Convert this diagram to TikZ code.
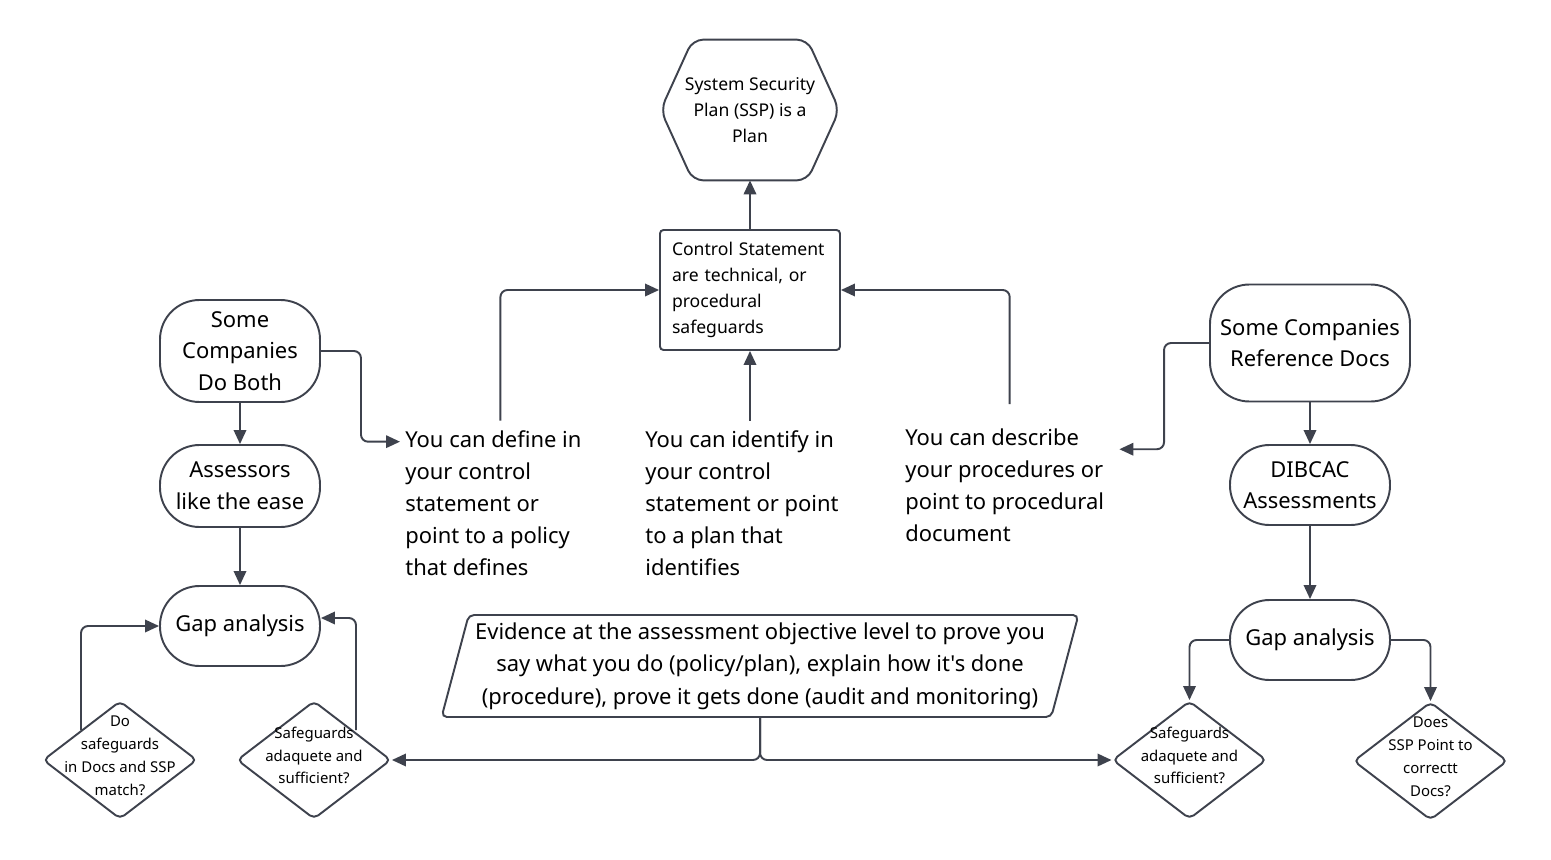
\documentclass[tikz,border=0pt]{standalone}
\usepackage{fontspec}
\setmainfont{Noto Sans}[Ligatures=TeXOff]
\usetikzlibrary{shapes.geometric,arrows.meta}

\definecolor{linegray}{RGB}{62,66,77}
% text of a decision, kept out of the diamond's size
\newcommand{\qtext}[1]{\makebox[0pt]{\smash{\begin{tabular}{@{}c@{}}#1\end{tabular}}}}

\begin{document}
\begin{tikzpicture}[
    pill/.style={rectangle, draw=linegray, line width=1.1pt, rounded corners=0.79cm,
              minimum width=3.2cm, minimum height=1.6cm,
              text centered, align=center,
              font=\fontsize{12.5}{18}\selectfont},
    ctrlbox/.style={rectangle, draw=linegray, line width=1.1pt, rounded corners=2pt,
              minimum width=3.6cm, minimum height=2.4cm,
              text width=3.12cm, inner xsep=0.24cm, align=left,
              font=\fontsize{10}{14.7}\selectfont},
    note/.style={inner xsep=0pt, inner ysep=0.2cm, align=left,
              font=\fontsize{12.5}{18.2}\selectfont},
    decision/.style={diamond, draw=linegray, line width=1.1pt, rounded corners=3pt,
              minimum width=3.08cm, minimum height=2.36cm, inner sep=0pt,
              font=\fontsize{8.5}{13}\selectfont},
    evidence/.style={trapezium, trapezium left angle=75, trapezium right angle=105,
              trapezium stretches, draw=linegray, line width=1.1pt, rounded corners=3pt,
              minimum width=12.8cm, minimum height=2.04cm, inner xsep=0pt,
              text centered, align=center,
              font=\fontsize{12.5}{18.6}\selectfont},
    arrow/.style={-{Triangle[length=0.28cm,width=0.25cm]}, draw=linegray,
              line width=1.1pt, rounded corners=4pt}
]
    \useasboundingbox (0,0) rectangle (31.02,-17.2);

    % top: plan and control statement
    \node[minimum width=3.56cm, minimum height=2.8cm, align=center,
          font=\fontsize{10}{14.7}\selectfont] (hex) at (15,-2.2)
        {System Security\\Plan (SSP) is a\\Plan};
    \draw[draw=linegray, line width=1.1pt, rounded corners=6pt]
        (hex.west) -- ([xshift=0.64cm]hex.north west)
        -- ([xshift=-0.64cm]hex.north east) -- (hex.east)
        -- ([xshift=-0.64cm]hex.south east)
        -- ([xshift=0.64cm]hex.south west) -- cycle;
    \node[ctrlbox] (ctrl) at (15,-5.8)
        {Control Statement\\are technical, or\\procedural\\safeguards};

    \node[note, anchor=west] (define) at (8.1,-10.07)
        {You can define in\\your control\\statement or\\point to a policy\\that defines};
    \node[note, anchor=west] (identify) at (12.9,-10.07)
        {You can identify in\\your control\\statement or point\\to a plan that\\identifies};
    \node[note, anchor=west] (describe) at (18.1,-9.7)
        {You can describe\\your procedures or\\point to procedural\\document};

    % left column
    \node[pill, minimum height=2.04cm] (both) at (4.8,-7.02)
        {Some\\Companies\\Do Both};
    \node[pill, minimum height=1.64cm] (ease) at (4.8,-9.72)
        {Assessors\\like the ease};
    \node[pill] (gapL) at (4.8,-12.52) {Gap analysis};
    \node[decision] (docsmatch) at (2.4,-15.2)
        {\qtext{Do\\safeguards\\in Docs and SSP\\match?}};
    \node[decision] (adequateL) at (6.28,-15.2)
        {\qtext{Safeguards\\adaquete and\\sufficient?}};

    % right column
    \node[pill, minimum width=4cm, minimum height=2.34cm] (refdocs) at (26.2,-6.86)
        {Some Companies\\Reference Docs};
    \node[pill] (dibcac) at (26.2,-9.7) {DIBCAC\\Assessments};
    \node[pill] (gapR) at (26.2,-12.8) {Gap analysis};
    \node[decision] (adequateR) at (23.79,-15.2)
        {\qtext{Safeguards\\adaquete and\\sufficient?}};
    \node[decision] (pointdocs) at (28.61,-15.22)
        {\qtext{Does\\SSP Point to\\correctt\\Docs?}};

    \node[evidence] (evid) at (15.2,-13.32)
        {Evidence at the assessment objective level to prove you\\
         say what you do (policy/plan), explain how it's done\\
         (procedure), prove it gets done (audit and monitoring)};

    \draw[arrow] (ctrl.north) -- (hex.south);
    \draw[arrow] ([xshift=0.14cm]define.north) |- (ctrl.west);
    \draw[arrow] (identify.north -| ctrl.south) -- (ctrl.south);
    \draw[arrow] ([xshift=0.1cm,yshift=0.28cm]describe.north) |- (ctrl.east);

    \draw[arrow] (both.east) -- ++(0.8,0)
        |- ([xshift=-0.1cm,yshift=-0.42cm]define.north west);
    \draw[arrow] (both) -- (ease);
    \draw[arrow] (ease) -- (gapL);
    \draw[arrow] (docsmatch.north west) |- (gapL.west);
    \draw[arrow] ([xshift=0.06cm]adequateL.north east) |- ([yshift=0.16cm]gapL.east);

    \draw[arrow] (evid.south) |- (adequateL.east);
    \draw[arrow] (evid.south) |- (adequateR.west);

    \draw[arrow] (refdocs.west) -- ++(-0.9,0)
        |- ([xshift=0.3cm,yshift=-0.62cm]describe.north east);
    \draw[arrow] (refdocs) -- (dibcac);
    \draw[arrow] (dibcac) -- (gapR);
    \draw[arrow] (gapR.west) -| (adequateR.north);
    \draw[arrow] (gapR.east) -| (pointdocs.north);
\end{tikzpicture}
\end{document}
